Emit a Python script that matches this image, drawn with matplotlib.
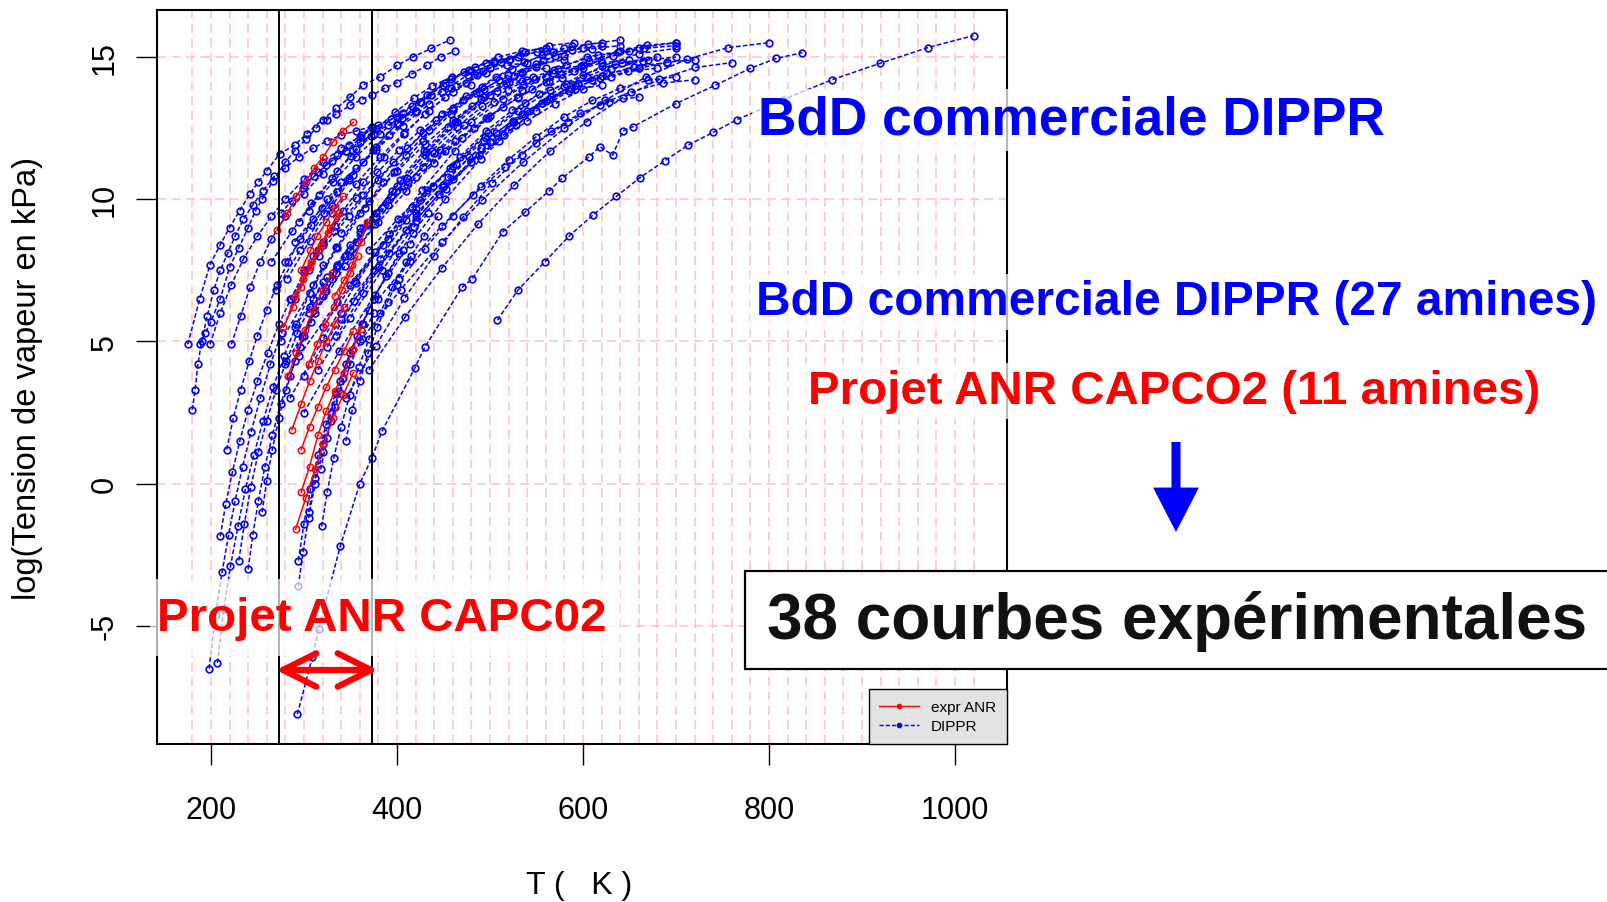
import matplotlib
matplotlib.use("Agg")
import matplotlib.pyplot as plt
from matplotlib.lines import Line2D
from matplotlib.patches import Rectangle, FancyArrowPatch

plt.rcParams["font.family"] = ["Liberation Sans", "DejaVu Sans"]
plt.rcParams["axes.unicode_minus"] = False

W, H = 1607, 903

# ---- courbes DIPPR (T en K, log de la tension de vapeur en kPa) ----
DIPPR_T = [
    [175, 188, 199, 210, 220, 231, 242, 251, 260, 274, 290, 303, 320, 335, 350, 363, 382, 400, 417, 437, 457],
    [188, 194, 200, 210, 220, 230, 240, 248, 255, 267, 280, 290, 302, 313, 325, 335, 350, 362, 373, 387, 400, 416, 432, 447, 462],
    [180, 183, 186, 190, 196, 203, 210, 218, 226, 235, 245, 256, 268, 280, 295, 310, 325, 340, 356, 373],
    [199, 210, 222, 235, 250, 265, 280, 300, 320, 340, 360, 380, 400, 421],
    [222, 232, 242, 253, 265, 280, 300, 320, 345, 373],
    [217, 224, 232, 241, 250, 260, 271, 283, 296, 310, 325, 340, 356],
    [198, 205, 212, 219, 226, 234, 243, 253, 264, 276, 290, 305, 320],
    [207, 214, 221, 229, 237, 246, 256, 267, 279, 292, 306, 321],
    [210, 216, 223, 231, 240, 250, 261, 273, 286, 300, 315],
    [240, 245, 251, 258, 266, 275, 285, 296, 308, 321, 335],
    [230, 236, 243, 251, 260, 270, 281, 293, 306, 320],
    [255, 260, 266, 273, 281, 290, 300, 311, 323, 336, 350],
    [294, 299, 305, 312, 320, 329, 339, 350, 362, 375],
    [294, 300, 307, 315, 324, 334, 345, 357, 370],
    [319, 325, 332, 340, 349, 359, 370, 382, 395, 410],
    [305, 312, 320, 329, 339, 350, 362, 375, 390, 406],
    [318, 325, 333, 342, 352, 363, 375, 388, 402, 417, 433],
    [345, 352, 360, 369, 379, 390, 402, 415, 429, 444],
    [300, 315, 330, 345, 360, 375, 390, 405, 421],
    [275, 287, 299, 311, 324, 336, 348, 361, 373],
    [280, 308, 336, 364, 392, 420, 448, 476, 504, 532, 560],
    [285, 316, 348, 380, 411, 442, 474, 506, 537, 568, 600],
    [290, 325, 360, 395, 430, 465, 500, 535, 570, 605, 640],
    [295, 336, 376, 416, 457, 498, 538, 578, 619, 660, 700],
    [300, 340, 380, 420, 460, 500, 540, 580, 620, 660, 700],
    [305, 336, 368, 400, 431, 462, 494, 526, 557, 588, 620],
    [275, 306, 336, 366, 397, 428, 458, 488, 519, 550, 580],
    [310, 335, 360, 385, 410, 435, 460, 485, 510, 535, 560],
    [320, 342, 364, 386, 408, 430, 452, 474, 496, 518, 540],
    [330, 356, 382, 408, 434, 460, 486, 512, 538, 564, 590],
    [300, 338, 376, 414, 452, 490, 528, 566, 604, 642, 680],
    [315, 350, 384, 418, 453, 488, 522, 556, 591, 626, 660],
    [350, 380, 410, 440, 470, 500, 530, 560, 590, 620, 650],
    [360, 394, 428, 462, 496, 530, 564, 598, 632, 666, 700],
    [340, 375, 410, 445, 480, 515, 550, 585, 620, 655, 690],
    [295, 316, 336, 356, 377, 398, 418, 438, 459, 480, 500],
    [270, 296, 322, 348, 374, 400, 426, 452, 478, 504, 530],
    [285, 321, 356, 392, 427, 462, 498, 534, 569, 604, 640],
    [290, 319, 348, 377, 406, 435, 464, 493, 522, 551, 580],
    [300, 332, 364, 396, 428, 460, 492, 524, 556, 588, 620],
    [310, 344, 378, 412, 446, 480, 514, 548, 582, 616, 650],
    [320, 355, 390, 425, 460, 495, 530, 565, 600, 635, 670],
    [330, 357, 384, 411, 438, 465, 492, 519, 546, 573, 600],
    [282, 306, 330, 353, 377, 401, 425, 449, 472, 496, 520],
    [298, 324, 350, 377, 403, 429, 455, 481, 508, 534, 560],
    [340, 370, 400, 430, 460, 490, 520, 550, 580, 610, 640],
    [350, 385, 420, 455, 490, 525, 560, 595, 630, 665, 700],
    [310, 333, 356, 379, 402, 425, 448, 471, 494, 517, 540],
    [325, 354, 382, 410, 439, 468, 496, 524, 553, 582, 610],
    [370, 401, 432, 463, 494, 525, 556, 587, 618, 649, 680],
    [390, 421, 452, 483, 514, 545, 576, 607, 638, 669, 700],
    [265, 287, 308, 330, 351, 372, 394, 416, 437, 458, 480],
    [280, 312, 344, 376, 408, 440, 472, 504, 536, 568, 600],
    [305, 331, 356, 382, 407, 432, 458, 484, 509, 534, 560],
    [420, 450, 480, 510, 540, 570, 600, 630, 660, 690, 720],
    [335, 364, 392, 420, 449, 478, 506, 534, 563, 592, 620],
    [360, 404, 448, 492, 536, 580, 624, 668, 712, 756, 800],
    [370, 409, 448, 487, 526, 565, 604, 643, 682, 721, 760],
    [380, 414, 448, 482, 516, 550, 584, 618, 652, 686, 720],
    [345, 377, 408, 440, 471, 502, 534, 566, 597, 628, 660],
    [400, 430, 460, 490, 520, 550, 580, 610, 640, 670, 700],
    [293, 309, 316, 339, 360, 373, 384, 419, 430, 470, 481, 514, 538, 564, 578, 607, 618, 632, 643, 654, 700, 742, 780, 808, 836],
    [508, 530, 559, 585, 611, 636, 661, 688, 713, 740, 766, 815, 868, 919, 971, 1020],
]
DIPPR_LOGP = [
    [4.9, 6.5, 7.7, 8.4, 9.0, 9.6, 10.2, 10.6, 11.0, 11.6, 11.9, 12.3, 12.8, 13.2, 13.6, 14.0, 14.3, 14.7, 15.0, 15.3, 15.6],
    [4.9, 5.3, 5.7, 6.5, 7.6, 8.3, 9.0, 9.6, 10.0, 10.65, 11.3, 11.7, 12.1, 12.5, 12.8, 13.0, 13.3, 13.5, 13.65, 13.9, 14.1, 14.4, 14.7, 15.0, 15.2],
    [2.6, 3.3, 4.2, 5.0, 5.9, 6.8, 7.5, 8.1, 8.7, 9.3, 9.8, 10.3, 10.8, 11.1, 11.5, 11.8, 12.05, 12.25, 12.4, 12.55],
    [4.9, 6.0, 7.0, 7.9, 8.7, 9.4, 10.0, 10.7, 11.3, 11.8, 12.2, 12.6, 12.9, 13.1],
    [4.9, 5.9, 6.9, 7.8, 8.6, 9.4, 10.2, 10.9, 11.7, 12.5],
    [1.2, 2.3, 3.3, 4.3, 5.2, 6.1, 7.0, 7.8, 8.6, 9.3, 10.0, 10.6, 11.1],
    [-6.5, -4.6, -3.1, -1.8, -0.6, 0.6, 1.8, 3.0, 4.2, 5.3, 6.5, 7.5, 8.4],
    [-6.3, -4.4, -2.9, -1.5, -0.2, 1.0, 2.2, 3.4, 4.5, 5.6, 6.7, 7.7],
    [-1.85, -0.7, 0.4, 1.5, 2.6, 3.6, 4.6, 5.6, 6.5, 7.4, 8.2],
    [-3.0, -1.8, -0.6, 0.6, 1.7, 2.8, 3.8, 4.8, 5.7, 6.6, 7.4],
    [-2.7, -1.4, -0.1, 1.1, 2.2, 3.3, 4.3, 5.3, 6.2, 7.1],
    [-1.0, 0.1, 1.2, 2.3, 3.3, 4.3, 5.2, 6.1, 6.9, 7.7, 8.4],
    [-3.6, -2.4, -1.2, 0.0, 1.1, 2.2, 3.2, 4.2, 5.1, 6.0],
    [-2.7, -1.4, -0.2, 1.0, 2.1, 3.2, 4.2, 5.2, 6.1],
    [-1.5, -0.3, 0.9, 2.0, 3.1, 4.1, 5.1, 6.0, 6.9, 7.8],
    [-1.0, 0.2, 1.4, 2.5, 3.6, 4.6, 5.6, 6.5, 7.4, 8.2],
    [0.5, 1.6, 2.7, 3.7, 4.7, 5.6, 6.5, 7.3, 8.1, 8.8, 9.5],
    [1.5, 2.6, 3.6, 4.6, 5.5, 6.4, 7.2, 8.0, 8.7, 9.4],
    [10.5, 10.95, 11.35, 11.7, 12.0, 12.3, 12.6, 12.85, 13.1],
    [9.5, 9.95, 10.4, 10.8, 11.2, 11.55, 11.9, 12.25, 12.55],
    [7.8, 9.08, 10.25, 11.31, 12.25, 13.08, 13.78, 14.36, 14.79, 15.08, 15.2],
    [6.5, 8.02, 9.41, 10.67, 11.79, 12.77, 13.61, 14.3, 14.82, 15.16, 15.3],
    [5.5, 7.25, 8.84, 10.29, 11.57, 12.7, 13.66, 14.45, 15.04, 15.44, 15.6],
    [4.5, 6.4, 8.14, 9.71, 11.11, 12.34, 13.39, 14.25, 14.9, 15.32, 15.5],
    [3.8, 5.79, 7.61, 9.25, 10.71, 12.0, 13.09, 13.99, 14.67, 15.12, 15.3],
    [6.0, 7.63, 9.11, 10.46, 11.65, 12.7, 13.6, 14.33, 14.88, 15.25, 15.4],
    [5.0, 6.71, 8.28, 9.69, 10.95, 12.06, 13.0, 13.77, 14.36, 14.74, 14.9],
    [7.0, 8.31, 9.52, 10.6, 11.57, 12.42, 13.14, 13.73, 14.18, 14.48, 14.6],
    [8.5, 9.59, 10.59, 11.49, 12.29, 12.99, 13.59, 14.08, 14.45, 14.7, 14.8],
    [9.5, 10.54, 11.49, 12.34, 13.11, 13.78, 14.35, 14.82, 15.17, 15.4, 15.5],
    [2.5, 4.66, 6.64, 8.43, 10.01, 11.41, 12.6, 13.58, 14.31, 14.8, 15.0],
    [4.0, 5.83, 7.51, 9.02, 10.37, 11.56, 12.56, 13.39, 14.02, 14.43, 14.6],
    [8.0, 9.19, 10.28, 11.27, 12.15, 12.92, 13.58, 14.11, 14.52, 14.79, 14.9],
    [9.0, 10.11, 11.12, 12.03, 12.85, 13.56, 14.17, 14.67, 15.05, 15.3, 15.4],
    [6.0, 7.52, 8.91, 10.17, 11.29, 12.27, 13.11, 13.8, 14.32, 14.66, 14.8],
    [9.2, 10.13, 10.99, 11.77, 12.45, 13.05, 13.56, 13.98, 14.3, 14.51, 14.6],
    [6.8, 8.22, 9.51, 10.69, 11.73, 12.65, 13.43, 14.07, 14.55, 14.87, 15.0],
    [3.0, 5.11, 7.04, 8.78, 10.33, 11.7, 12.86, 13.83, 14.53, 15.0, 15.2],
    [8.5, 9.68, 10.75, 11.72, 12.59, 13.35, 13.99, 14.52, 14.93, 15.19, 15.3],
    [7.5, 8.88, 10.15, 11.29, 12.31, 13.2, 13.96, 14.59, 15.06, 15.37, 15.5],
    [6.5, 8.01, 9.38, 10.62, 11.73, 12.7, 13.53, 14.21, 14.72, 15.06, 15.2],
    [5.5, 7.13, 8.61, 9.96, 11.15, 12.2, 13.1, 13.83, 14.38, 14.75, 14.9],
    [7.2, 8.5, 9.68, 10.76, 11.71, 12.55, 13.26, 13.85, 14.29, 14.58, 14.7],
    [7.2, 8.53, 9.75, 10.85, 11.83, 12.69, 13.42, 14.02, 14.48, 14.78, 14.9],
    [5.2, 6.77, 8.21, 9.51, 10.67, 11.69, 12.55, 13.26, 13.8, 14.15, 14.3],
    [8.8, 9.94, 10.98, 11.93, 12.77, 13.51, 14.13, 14.65, 15.04, 15.29, 15.4],
    [7.0, 8.38, 9.65, 10.79, 11.81, 12.7, 13.46, 14.09, 14.56, 14.87, 15.0],
    [8.0, 9.07, 10.05, 10.94, 11.73, 12.42, 13.01, 13.49, 13.86, 14.1, 14.2],
    [4.8, 6.43, 7.91, 9.26, 10.45, 11.5, 12.4, 13.13, 13.68, 14.05, 14.2],
    [8.2, 9.31, 10.32, 11.23, 12.05, 12.76, 13.37, 13.87, 14.25, 14.5, 14.6],
    [9.8, 10.79, 11.69, 12.5, 13.23, 13.86, 14.41, 14.85, 15.19, 15.41, 15.5],
    [7.8, 8.87, 9.85, 10.74, 11.53, 12.22, 12.81, 13.29, 13.66, 13.9, 14.0],
    [4.2, 6.0, 7.64, 9.13, 10.45, 11.62, 12.6, 13.41, 14.03, 14.43, 14.6],
    [9.6, 10.59, 11.49, 12.3, 13.03, 13.66, 14.21, 14.65, 14.99, 15.21, 15.3],
    [9.5, 10.43, 11.29, 12.06, 12.75, 13.35, 13.86, 14.28, 14.6, 14.81, 14.9],
    [5.2, 6.72, 8.11, 9.37, 10.49, 11.47, 12.31, 13.0, 13.52, 13.86, 14.0],
    [5.0, 6.82, 8.48, 9.98, 11.31, 12.49, 13.48, 14.3, 14.92, 15.33, 15.5],
    [4.0, 5.87, 7.57, 9.12, 10.49, 11.7, 12.73, 13.57, 14.21, 14.63, 14.8],
    [6.5, 7.83, 9.05, 10.15, 11.13, 11.99, 12.72, 13.32, 13.78, 14.08, 14.2],
    [3.0, 4.83, 6.51, 8.02, 9.37, 10.56, 11.56, 12.39, 13.02, 13.43, 13.6],
    [7.0, 8.26, 9.42, 10.46, 11.39, 12.2, 12.9, 13.47, 13.9, 14.18, 14.3],
    [-8.1, -6.1, -5.1, -2.2, 0.0, 0.9, 1.85, 4.05, 4.8, 6.9, 7.2, 8.86, 9.55, 10.3, 10.75, 11.5, 11.85, 11.55, 12.4, 12.55, 13.36, 14.0, 14.6, 14.95, 15.15],
    [5.75, 6.8, 7.8, 8.7, 9.45, 10.1, 10.75, 11.35, 11.9, 12.35, 12.8, 13.5, 14.2, 14.77, 15.33, 15.75],
]

# ---- courbes experimentales projet ANR (11 amines) ----
ANR_T = [
    [271, 282, 292, 302, 311, 321, 331, 342, 353],
    [297, 307, 314, 324, 333, 342],
    [333, 343, 352, 361, 368],
    [278, 288, 297, 307, 316, 326, 335],
    [287, 297, 306, 315, 324, 333, 343],
    [297, 306, 315, 324, 333, 343, 353],
    [291, 302, 312, 321, 331, 342, 353],
    [297, 306, 315, 324, 333, 343, 353, 361],
    [283, 292, 301, 310, 320, 330],
    [305, 314, 323, 332, 341, 350, 358],
    [290, 299, 308, 318, 328, 338],
]
ANR_LOGP = [
    [8.9, 9.5, 10.1, 10.6, 11.1, 11.5, 12.0, 12.4, 12.7],
    [7.5, 8.2, 8.7, 9.2, 9.7, 10.1],
    [6.6, 7.15, 7.7, 8.5, 9.2],
    [5.5, 6.2, 6.9, 7.6, 8.2, 8.8, 9.4],
    [1.9, 2.8, 3.6, 4.3, 5.0, 5.6, 6.2],
    [1.2, 2.0, 2.7, 3.4, 4.0, 4.65, 5.35],
    [-1.6, -0.5, 0.5, 1.4, 2.3, 3.1, 3.9],
    [-0.3, 0.6, 1.7, 2.55, 3.25, 3.9, 4.75, 5.45],
    [3.8, 4.6, 5.4, 6.1, 6.8, 7.4],
    [4.2, 4.9, 5.6, 6.2, 6.8, 7.4, 8.0],
    [6.6, 7.2, 7.8, 8.4, 9.0, 9.5],
]

T_REPERES = [273.15, 373.15]          # 0 et 100 degres C
GRILLE_T = list(range(180, 1021, 20))
GRILLE_Y = [-5, 0, 5, 10, 15]
XTICKS = [200, 400, 600, 800, 1000]
YTICKS = [-5, 0, 5, 10, 15]

BLEU, ROUGE, ROSE = "#0000FF", "#FF0000", "#FFC0CB"


def fx(x):
    return x / W


def fy(y):
    return 1 - y / H


fig = plt.figure(figsize=(W / 100, H / 100), dpi=100)
ax = fig.add_axes([fx(157), fy(745), (1007 - 157) / W, (745 - 11) / H])

# grille rose pointillee
for t in GRILLE_T:
    ax.axvline(t, color=ROSE, lw=1.1, ls=(0, (6, 3.5)), zorder=0)
for g in GRILLE_Y:
    ax.axhline(g, color=ROSE, lw=1.1, ls=(0, (6, 3.5)), zorder=0)

for t, p in zip(DIPPR_T, DIPPR_LOGP):
    ax.plot(t, p, color=BLEU, lw=1.1, ls=(0, (3, 1.5)), marker="o", ms=4.8,
            mfc="none", mec=BLEU, mew=1.2, zorder=2)
for t, p in zip(ANR_T, ANR_LOGP):
    ax.plot(t, p, color=ROUGE, lw=1.1, ls="-", marker="o", ms=4.6,
            mfc="none", mec=ROUGE, mew=1.1, zorder=3)

for t in T_REPERES:
    ax.axvline(t, color="black", lw=1.4, zorder=4)

ax.set_xlim(142, 1056)
ax.set_ylim(-9.15, 16.65)
ax.set_xticks(XTICKS)
ax.set_yticks(YTICKS)
ax.tick_params(direction="out", length=15, width=1, labelsize=22, colors="black")
ax.tick_params(axis="x", pad=22)
ax.tick_params(axis="y", pad=12)
for lab in ax.get_yticklabels():
    lab.set_rotation(90)
    lab.set_va("center")
for s in ax.spines.values():
    s.set_linewidth(1.5)

fig.text(fx(28), fy(379), "log(Tension de vapeur en kPa)", rotation=90,
         ha="center", va="center", fontsize=23.5)
fig.text(fx(579), fy(886), "T (   K )", ha="center", va="center", fontsize=23)

# legende
poignees = [
    Line2D([], [], color=ROUGE, lw=1, marker="o", ms=3),
    Line2D([], [], color=BLEU, lw=1, ls=(0, (3, 1.5)), marker="o", ms=3),
]
leg = ax.legend(poignees, ["expr ANR", "DIPPR"], loc="lower right",
                borderaxespad=0, fontsize=11, frameon=True, fancybox=False,
                facecolor="#E3E3E3", edgecolor="black", framealpha=1,
                handlelength=2.6, labelspacing=0.35, borderpad=0.7)
leg.get_frame().set_linewidth(1)
leg.set_zorder(6)

# annotations de la diapositive
boite = dict(boxstyle="square,pad=0.12", facecolor=(1, 1, 1, 0.72), edgecolor="none")
fig.text(fx(758), fy(121), "BdD commerciale DIPPR", color=BLEU, fontsize=38.3,
         fontweight="bold", ha="left", va="center", bbox=boite, zorder=10)
fig.text(fx(756), fy(303), "BdD commerciale DIPPR (27 amines)", color=BLEU,
         fontsize=34.5, fontweight="bold", ha="left", va="center", bbox=boite, zorder=10)
fig.text(fx(808), fy(392), "Projet ANR CAPCO2 (11 amines)", color=ROUGE,
         fontsize=34.2, fontweight="bold", ha="left", va="center", bbox=boite, zorder=10)

fig.patches.append(Rectangle((fx(150), fy(657)), fx(470), (657 - 580) / H,
                             transform=fig.transFigure, facecolor=(1, 1, 1, 0.7),
                             edgecolor="none", zorder=9))
fig.text(fx(157), fy(619), "Projet ANR CAPC02", color=ROUGE, fontsize=34.2,
         fontweight="bold", ha="left", va="center", zorder=10)

fig.patches.append(Rectangle((fx(745), fy(670)), fx(900), (670 - 572) / H,
                             transform=fig.transFigure, facecolor="white",
                             edgecolor="black", lw=1.6, zorder=9))
fig.text(fx(767), fy(622), "38 courbes expérimentales", color="#111111",
         fontsize=46, fontweight="bold", ha="left", va="center", zorder=10)

fleche_bas = FancyArrowPatch((1176, H - 443), (1176, H - 533), transform=None,
                             arrowstyle="simple,head_length=32,head_width=33,tail_width=6.5",
                             mutation_scale=1, color=BLEU, lw=0, shrinkA=0, shrinkB=0,
                             zorder=10)
fig.patches.append(fleche_bas)
fleche_rouge = FancyArrowPatch((276, H - 671), (378, H - 671), transform=None,
                               arrowstyle="<->,head_length=24,head_width=12",
                               mutation_scale=1, color=ROUGE, lw=4.5,
                               shrinkA=0, shrinkB=0,
                               capstyle="round", joinstyle="round", zorder=10)
fig.patches.append(fleche_rouge)

fig.savefig("out.png", dpi=100)
